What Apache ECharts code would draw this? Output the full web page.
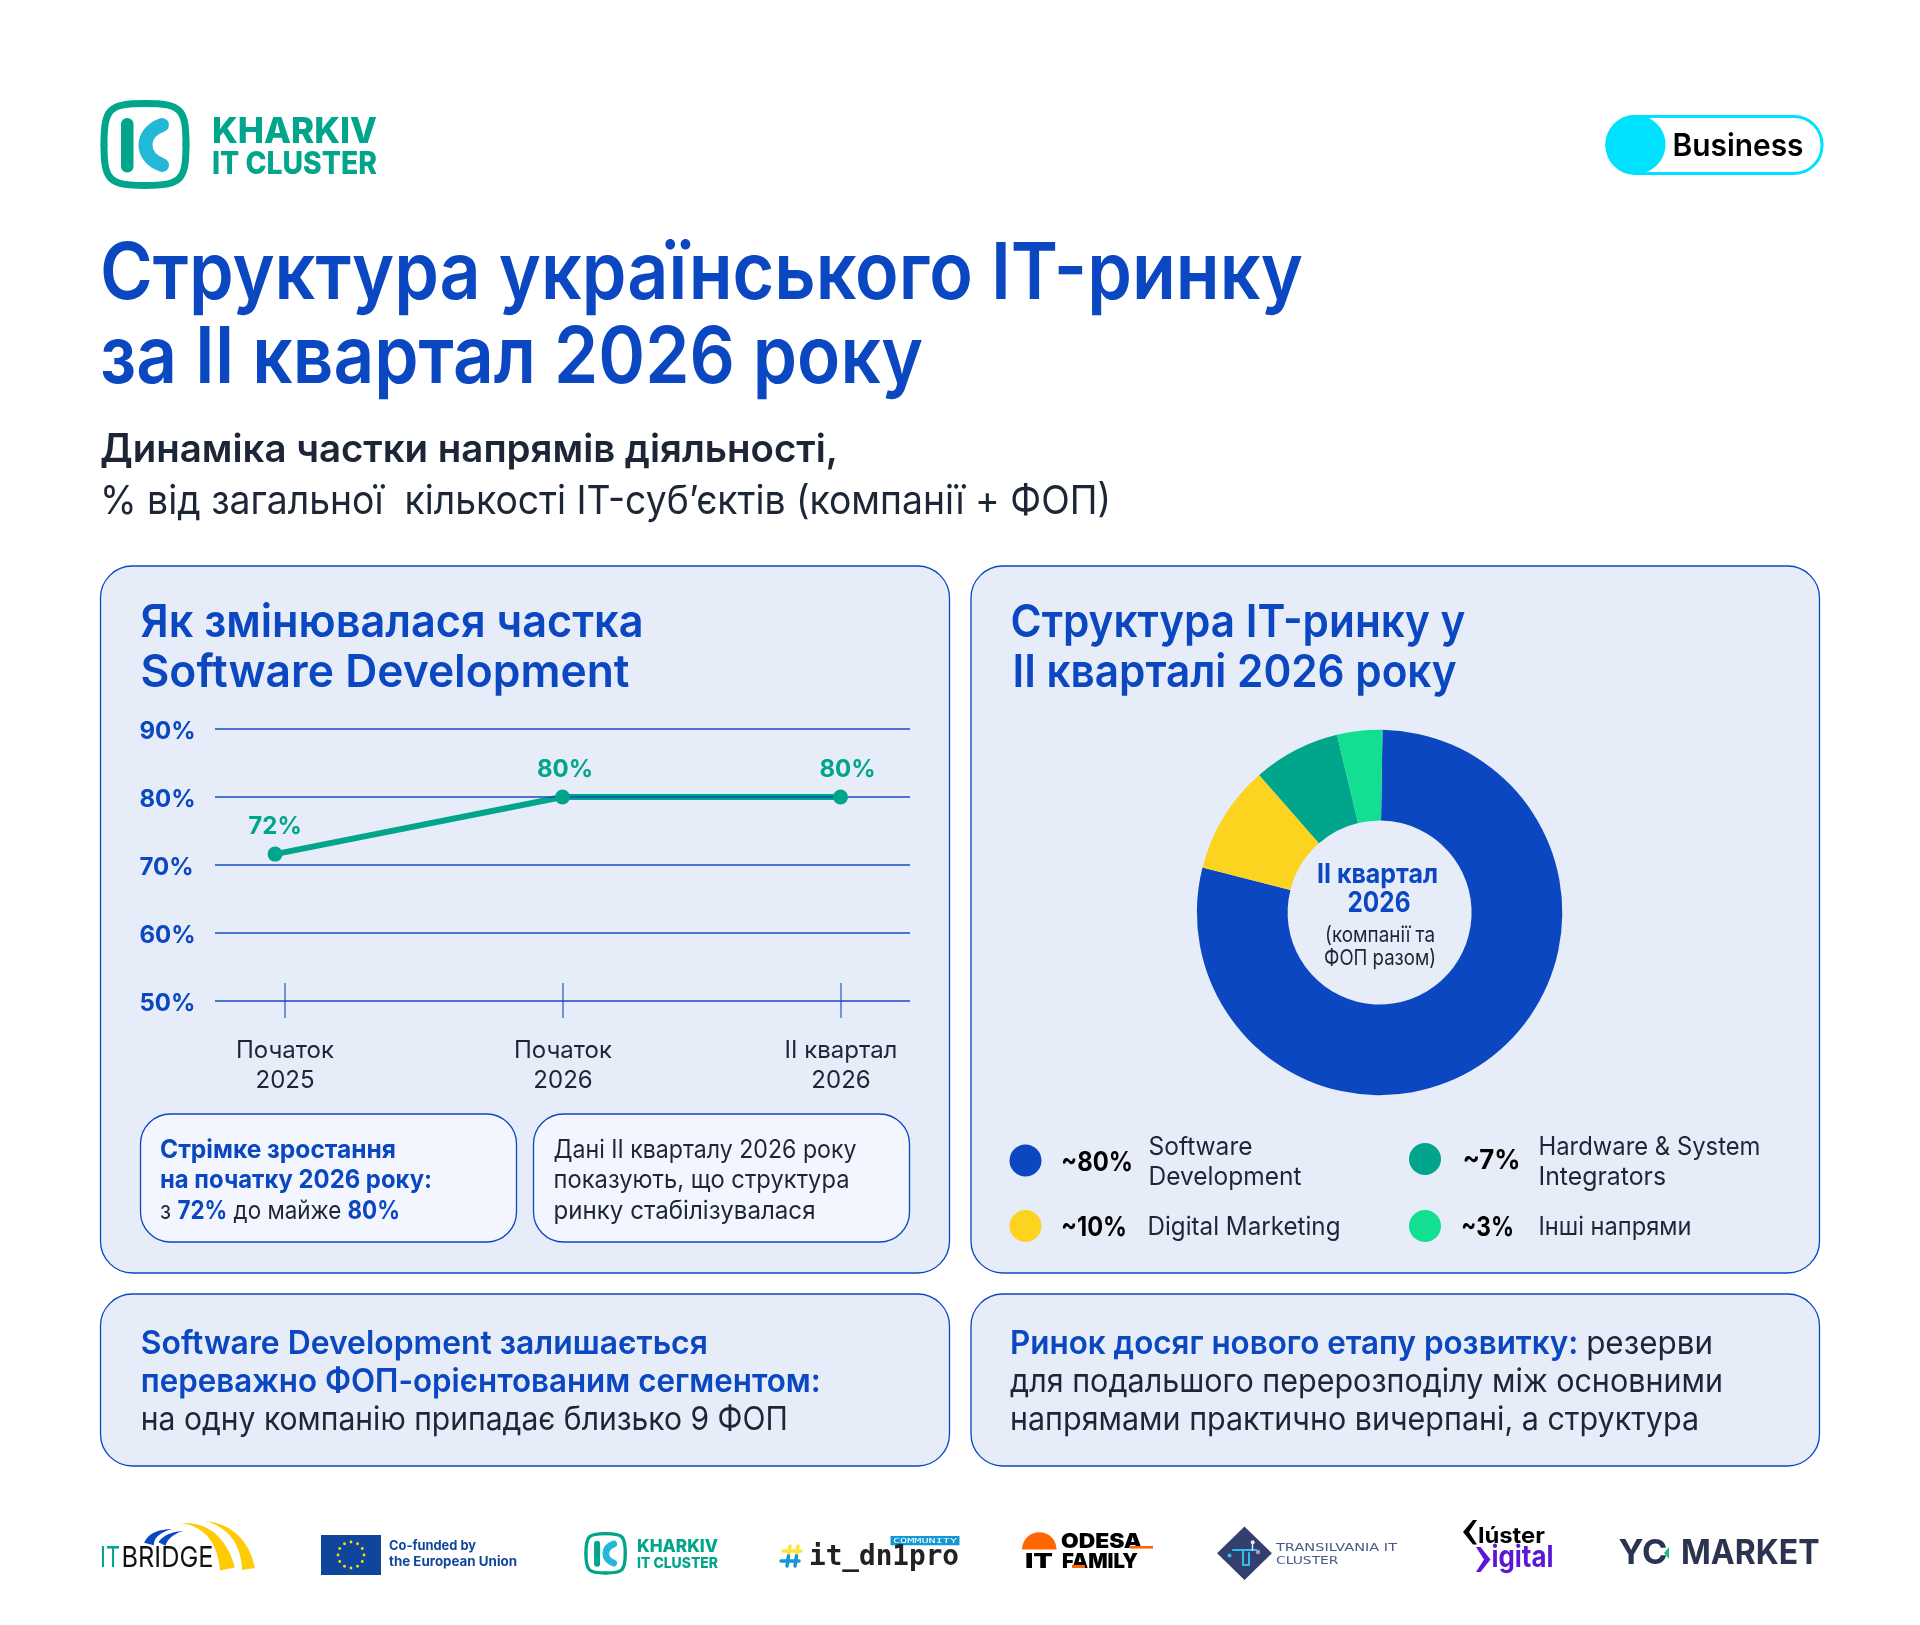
<!DOCTYPE html>
<html><head><meta charset="utf-8">
<style>html,body{margin:0;padding:0;background:#fff}#c{width:1920px;height:1625px}</style>
<script src="https://cdn.jsdelivr.net/npm/echarts@6/dist/echarts.min.js"></script>
</head><body><div id="c"></div>
<script>
// ---- data ----
const categories = ['Початок\n2025', 'Початок\n2026', 'II квартал\n2026'];
const softwareShare = [71.6, 80, 80];
const pointX = [-0.034, 1, 2];
const pieNames = ['Software Development', 'Digital Marketing', 'Hardware & System Integrators', 'Інші напрями'];
const pieValues = [78.7, 9.6, 7.7, 4.0];
const pieColors = ['#0B47C1', '#FCD41F', '#00A58B', '#13DF93'];
const legendShares = ['~80%', '~10%', '~7%', '~3%'];
const titleLines = ['Структура українського IT-ринку', 'за II квартал 2026 року'];
const subtitleLines = ['Динаміка частки напрямів діяльності,', '% від загальної  кількості IT-суб’єктів (компанії + ФОП)'];
const leftTitle = ['Як змінювалася частка', 'Software Development'];
const rightTitle = ['Структура IT-ринку у', 'II кварталі 2026 року'];

// ---- helpers ----
const BLUE = '#0B47C1', INK = '#1C2636', GREEN = '#00A58B', F = 'Inter';
const mctx = document.createElement('canvas').getContext('2d');
function mw(t, size, weight, fam) { mctx.font = weight + ' ' + size + 'px ' + (fam || F); return mctx.measureText(t).width; }
const els = [];
function T(x, y, text, size, weight, fill, w, o) {
  o = o || {};
  const fam = o.fam || F;
  const s = w ? w / mw(text, size, weight, fam) : 1;
  const al = o.align || 'left';
  els.push({ type: 'text', x, y, z: 20, scaleX: s, silent: true,
    style: { text, fill, font: weight + ' ' + size + 'px ' + fam, textAlign: al, align: al, textVerticalAlign: 'middle', verticalAlign: 'middle' } });
}
function M(x, y, segs, size, w) {
  let tot = 0; segs.forEach(g => tot += mw(g[0], size, g[1]));
  const s = w ? w / tot : 1; let cx = x;
  segs.forEach(g => { T(cx, y, g[0], size, g[1], g[2], mw(g[0], size, g[1]) * s); cx += mw(g[0], size, g[1]) * s; });
}
function R(x, y, w, h, r, fill, stroke, lw, z) {
  els.push({ type: 'rect', z: z == null ? -10 : z, silent: true, shape: { x, y, width: w, height: h, r },
    style: { fill: fill || 'none', stroke: stroke || 'none', lineWidth: lw || 0 } });
}
function C(x, y, r, fill, z) { els.push({ type: 'circle', z: z == null ? 15 : z, silent: true, shape: { cx: x, cy: y, r }, style: { fill } }); }
function B(p, stroke, lw, cap) {
  els.push({ type: 'bezierCurve', z: 15, silent: true, shape: { x1: p[0], y1: p[1], cpx1: p[2], cpy1: p[3], cpx2: p[4], cpy2: p[5], x2: p[6], y2: p[7] },
    style: { stroke, lineWidth: lw, lineCap: cap || 'round', fill: 'none' } });
}
function P(points, fill, stroke, lw) { els.push({ type: 'polygon', z: 15, silent: true, shape: { points }, style: { fill, stroke: stroke || 'none', lineWidth: lw || 0 } }); }
function L(points, stroke, lw) { els.push({ type: 'polyline', z: 16, silent: true, shape: { points }, style: { stroke, lineWidth: lw, fill: 'none', lineCap: 'round', lineJoin: 'round' } }); }
// tapered band for the bridge arches: a quadratic centre line whose width grows to w
function taper(x0, y0, cx, cy, x1, y1, w, fill) {
  const a = [], b = [];
  for (let i = 0; i <= 24; i++) {
    const t = i / 24, u = 1 - t;
    const x = u * u * x0 + 2 * u * t * cx + t * t * x1, y = u * u * y0 + 2 * u * t * cy + t * t * y1;
    const dx = 2 * u * (cx - x0) + 2 * t * (x1 - cx), dy = 2 * u * (cy - y0) + 2 * t * (y1 - cy);
    const n = Math.hypot(dx, dy) || 1, h = w * t / 2;
    a.push([x - dy / n * h, y + dx / n * h]); b.unshift([x + dy / n * h, y - dx / n * h]);
  }
  P(a.concat(b), fill);
}
function logoK(x, y, s) {
  const cx = x + 45 * s, cy = y + 44.5 * s, h = 41 * s, k = 36 * s;
  const lw = 7 * s;
  B([cx, cy - h, cx + k, cy - h, cx + h, cy - k, cx + h, cy], GREEN, lw);
  B([cx + h, cy, cx + h, cy + k, cx + k, cy + h, cx, cy + h], GREEN, lw);
  B([cx, cy + h, cx - k, cy + h, cx - h, cy + k, cx - h, cy], GREEN, lw);
  B([cx - h, cy, cx - h, cy - k, cx - k, cy - h, cx, cy - h], GREEN, lw);
  R(x + 21 * s, y + 18 * s, 12.5 * s, 54.5 * s, 6.2 * s, GREEN, null, 0, 15);
  B([x + 62 * s, y + 25 * s, x + 40 * s, y + 33 * s, x + 40 * s, y + 57 * s, x + 62 * s, y + 65 * s], '#24B8D8', 14 * s);
}

// ---- header ----
logoK(100, 100, 1);
T(212, 132, 'KHARKIV', 36, 800, GREEN, 165);
T(212, 165, 'IT CLUSTER', 31, 800, GREEN, 165);
R(1607, 116.5, 215, 57, 28, '#fff', '#00E1FF', 3, -9);
els.push({ type: 'ellipse', z: 15, silent: true, shape: { cx: 1635.5, cy: 144.5, rx: 30, ry: 29.5 }, style: { fill: '#00E1FF' } });
T(1672.5, 147, 'Business', 31, 600, '#000', 131);
T(100, 275, titleLines[0], 79, 600, BLUE, 1203);
T(100, 359, titleLines[1], 79, 600, BLUE, 823);
T(100, 450, subtitleLines[0], 39, 600, INK, 738);
T(100, 502, subtitleLines[1], 40, 400, INK, 1011);

// ---- panels ----
const BG = '#E6ECF8', CARD = '#F3F6FE';
R(100.5, 566, 849, 707, 32, BG, BLUE, 1.3);
R(971, 566, 848.5, 707, 32, BG, BLUE, 1.3);
R(100.5, 1294, 849, 172, 32, BG, BLUE, 1.3);
R(971, 1294, 848.5, 172, 32, BG, BLUE, 1.3);
R(140.5, 1114, 376, 128, 30, CARD, BLUE, 1.3, -8);
R(533.5, 1114, 376, 128, 30, CARD, BLUE, 1.3, -8);

T(140.5, 623.5, leftTitle[0], 45, 600, BLUE, 503);
T(140.5, 673, leftTitle[1], 45, 600, BLUE, 489);
T(1010.5, 623.5, rightTitle[0], 45, 600, BLUE, 455);
T(1012.5, 673, rightTitle[1], 45, 600, BLUE, 444);

T(160, 1150, 'Стрімке зростання', 25.5, 700, BLUE, 236);
T(160, 1180.5, 'на початку 2026 року:', 25.5, 700, BLUE, 272);
M(160, 1211, [['з ', 400, INK], ['72%', 700, BLUE], [' до майже ', 400, INK], ['80%', 700, BLUE]], 25.5, 240);
T(553.5, 1150, 'Дані II кварталу 2026 року', 25.5, 400, INK, 303);
T(553.5, 1180.5, 'показують, що структура', 25.5, 400, INK, 296);
T(553.5, 1211, 'ринку стабілізувалася', 25.5, 400, INK, 262);

T(140.8, 1344.5, 'Software Development залишається', 33, 600, BLUE, 567);
T(140.8, 1382.5, 'переважно ФОП-орієнтованим сегментом:', 33, 600, BLUE, 680);
T(140.8, 1420.5, 'на одну компанію припадає близько 9 ФОП', 33, 400, INK, 647);
M(1010, 1344.5, [['Ринок досяг нового етапу розвитку: ', 600, BLUE], ['резерви', 400, INK]], 33, 703);
T(1010, 1382.5, 'для подальшого перерозподілу між основними', 33, 400, INK, 713);
T(1010, 1420.5, 'напрямами практично вичерпані, а структура', 33, 400, INK, 689);

// ---- donut centre + legend ----
T(1377.5, 874.5, 'II квартал', 27, 700, BLUE, 121, { align: 'center' });
T(1379, 904, '2026', 28, 700, BLUE, 63, { align: 'center' });
T(1380, 935, '(компанії та', 22, 400, INK, 110, { align: 'center' });
T(1380, 958, 'ФОП разом)', 22, 400, INK, 112, { align: 'center' });

C(1025.5, 1160.5, 16, pieColors[0]);
C(1025.5, 1226, 16, pieColors[1]);
C(1425, 1159, 16, pieColors[2]);
C(1425, 1226, 16, pieColors[3]);
T(1061, 1162.5, legendShares[0], 27, 700, '#000', 72);
T(1061, 1227.5, legendShares[1], 27, 700, '#000', 66);
T(1462.5, 1160.5, legendShares[2], 27, 700, '#000', 58);
T(1461, 1227.5, legendShares[3], 27, 700, '#000', 53);
T(1148.5, 1147, 'Software', 25.5, 400, INK, 104);
T(1148.5, 1177, 'Development', 25.5, 400, INK, 153);
T(1147.5, 1227, pieNames[1], 25.5, 400, INK, 193);
T(1538.5, 1147, 'Hardware & System', 25.5, 400, INK, 222);
T(1538.5, 1177, 'Integrators', 25.5, 400, INK, 127.5);
T(1538.5, 1227, pieNames[3], 25.5, 400, INK, 153);

// ---- footer logos ----
// IT Bridge
taper(181, 1523, 219, 1525, 227.5, 1569, 15, '#FFCB05');
taper(206, 1521, 243, 1529, 248.5, 1569, 13, '#FFCB05');
taper(172, 1529, 152, 1532, 149, 1544, 10, BLUE);
taper(183, 1531, 167, 1534, 162, 1544, 8, BLUE);
T(100, 1558.5, 'IT', 29, 400, GREEN, 20);
T(121.5, 1558.5, 'BRIDGE', 29, 400, '#111', 92);
// EU
R(321, 1535, 60, 40, 0, '#10459E', null, 0, 10);
for (let i = 0; i < 12; i++) { const a = i * Math.PI / 6; C(351 + 13 * Math.cos(a), 1555 + 13 * Math.sin(a), 1.4, '#FFE100'); }
T(389, 1546, 'Co-funded by', 13, 700, '#10459E', 87);
T(389, 1562.5, 'the European Union', 13, 700, '#10459E', 128);
// Kharkiv small
logoK(584, 1532, 0.48);
T(637, 1547, 'KHARKIV', 17.5, 800, GREEN, 81);
T(637, 1563.5, 'IT CLUSTER', 15, 800, GREEN, 81);
// it_dnipro
L([[783, 1551], [801, 1551]], '#FFE23A', 3.5);
L([[790, 1546], [788.5, 1556]], '#FFE23A', 3.5);
L([[798, 1546], [796.5, 1556]], '#FFE23A', 3.5);
L([[781, 1561], [799, 1561]], '#1397D5', 3.5);
L([[788.5, 1556], [787, 1566]], '#1397D5', 3.5);
L([[796.5, 1556], [795, 1566]], '#1397D5', 3.5);
R(890.5, 1536, 69, 9.3, 0, '#1397D5', null, 0, 10);
T(893, 1540.8, 'COMMUNITY', 7, 400, '#fff', 64, { fam: 'DejaVu Sans Mono' });
T(809, 1557, 'it_dn1pro', 29, 700, '#222', 150, { fam: 'DejaVu Sans Mono' });
// Odesa IT Family
els.push({ type: 'sector', z: 15, silent: true, shape: { cx: 1039.3, cy: 1549.5, r0: 0, r: 17.3, startAngle: Math.PI, endAngle: 2 * Math.PI }, style: { fill: '#FF6600' } });
T(1061, 1542, 'ODESA', 20, 900, '#000', 81);
T(1025, 1561.5, 'IT', 20, 900, '#000', 28);
T(1062, 1561.5, 'FAMILY', 20, 900, '#000', 76);
R(1130, 1546, 23, 2.6, 0, '#FF6600', null, 0, 21);
R(1072, 1565, 13, 3, 0, '#FF6600', null, 0, 21);
// Transilvania
P([[1244.5, 1528], [1270.5, 1553.3], [1244.5, 1578.5], [1218.5, 1553.3]], '#33406F', '#33406F', 2);
L([[1233, 1550], [1256, 1550]], '#35C0E8', 2.2);
L([[1243, 1550], [1243, 1565], [1249, 1565], [1249, 1553]], '#35C0E8', 2);
L([[1252.5, 1550], [1252.5, 1543]], '#E6ECF8', 1.4);
C(1252.7, 1542.3, 2, '#E6ECF8', 17);
C(1229.5, 1555.5, 2, '#35C0E8', 17);
C(1258, 1552, 2.2, '#9AA4C8', 17);
T(1276, 1548.5, 'TRANSILVANIA IT', 11, 400, '#4A5A86', 121, { fam: 'DejaVu Sans' });
T(1276, 1561, 'CLUSTER', 11, 400, '#4A5A86', 62.5, { fam: 'DejaVu Sans' });
// Cluster Digital
P([[1473, 1520], [1477, 1520], [1469, 1532], [1477, 1544.5], [1473, 1544.5], [1463, 1532]], '#000');
T(1478, 1536.5, 'lúster', 22, 700, '#000', 67);
P([[1476, 1547], [1480.5, 1547], [1490.5, 1559.5], [1480.5, 1572], [1476, 1572], [1484, 1559.5]], '#5B17D6');
T(1491.5, 1557.5, 'igital', 30, 700, '#5B17D6', 62);
// YC Market
T(1618.5, 1554, 'YC', 34, 700, '#2A3350', 49);
P([[1669, 1547], [1664, 1553], [1669, 1559]], '#13C47A');
T(1681, 1554, 'MARKET', 34, 700, '#2A3350', 138.5);

// ---- chart ----
const chart = echarts.init(document.getElementById('c'), null, { renderer: 'canvas', width: 1920, height: 1625 });
const gridColor = 'rgba(11,71,193,0.72)';
const labelOffsets = [[0, 0], [2.5, 0], [7, 0]];
chart.setOption({
  animation: false,
  backgroundColor: '#fff',
  textStyle: { fontFamily: F },
  graphic: { elements: els },
  grid: [
    { left: 215, top: 729, width: 695, height: 272 },
    { left: 285, top: 729, width: 556, height: 272 }
  ],
  xAxis: [
    { type: 'value', gridIndex: 0, min: -0.25, max: 2.25, show: false },
    { type: 'category', gridIndex: 1, position: 'bottom', boundaryGap: false, data: categories,
      axisLine: { show: false },
      axisTick: { show: true, length: 17, lineStyle: { color: gridColor, width: 1.5 } },
      axisLabel: { show: true, margin: 35, fontSize: 24, lineHeight: 30, color: INK, fontFamily: F, interval: 0 } },
    { type: 'category', gridIndex: 1, position: 'bottom', boundaryGap: false, data: categories,
      axisLine: { show: false },
      axisTick: { show: true, inside: true, length: 18, lineStyle: { color: gridColor, width: 1.5 } },
      axisLabel: { show: false } }
  ],
  yAxis: [
    { type: 'value', gridIndex: 0, min: 50, max: 90, interval: 10, z: 6,
      axisLine: { show: false }, axisTick: { show: false },
      splitLine: { show: true, lineStyle: { color: gridColor, width: 2 } },
      axisLabel: { formatter: '{v|{value}%}', align: 'left', margin: 75.5, fontFamily: F,
        rich: { v: { fontSize: 24, fontWeight: 700, color: BLUE, fontFamily: F, lineHeight: 30, verticalAlign: 'bottom' } } } },
    { type: 'value', gridIndex: 1, min: 50, max: 90, show: false }
  ],
  series: [
    { type: 'line', xAxisIndex: 0, yAxisIndex: 0, z: 5,
      data: softwareShare.map((v, i) => [pointX[i], v]),
      symbol: 'none', lineStyle: { color: GREEN, width: 6 } },
    { type: 'scatter', xAxisIndex: 0, yAxisIndex: 0, z: 7,
      data: softwareShare.map((v, i) => ({ value: [pointX[i], v], label: { offset: labelOffsets[i] } })),
      symbol: 'circle', symbolSize: 15, itemStyle: { color: GREEN, opacity: 1 },
      label: { show: true, position: 'top', distance: 8, fontSize: 24, fontWeight: 700, color: GREEN, fontFamily: F,
        formatter: p => Math.round(p.value[1]) + '%' } },
    { type: 'pie', center: [1379.6, 912.5], radius: [92, 182.7], startAngle: 89.1, clockwise: true,
      silent: true, label: { show: false }, labelLine: { show: false }, z: 5,
      data: pieNames.map((n, i) => ({ name: n, value: pieValues[i], itemStyle: { color: pieColors[i] } })) }
  ]
});
</script></body></html>
